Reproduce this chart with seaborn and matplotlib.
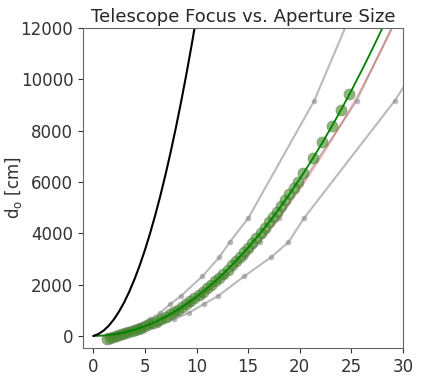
import numpy as np
import pandas as pd
import matplotlib
matplotlib.use("Agg")
import matplotlib.pyplot as plt
import seaborn as sns

# black curve (theory)
black_x = [0, 0.5, 1, 1.5, 2, 2.5, 3, 3.5, 4, 4.5, 5, 5.5, 6, 6.5, 7, 7.5, 8, 8.5, 9, 9.5, 10]
black_y = [0, 76, 210, 401, 650, 956, 1320, 1741, 2220, 2756, 3350, 4001, 4710, 5476,
           6300, 7181, 8120, 9116, 10170, 11281, 12450]

# measured d_o levels for the gray error lines
gray_y = [40, 120, 250, 420, 650, 910, 1240, 1560, 2320, 3065, 3650, 4585, 9166, 14000]
gray_upper_x = [1.36, 2.35, 3.4, 4.4, 5.5, 6.5, 7.45, 8.5, 10.55, 12.2, 13.2, 15.0, 21.4, 26.5]
gray_inner_x = [1.68, 2.91, 4.2, 5.45, 6.78, 8.02, 9.36, 10.5, 12.8, 14.7, 16.1, 18.0, 25.5, 31.3]
gray_lower_x = [1.95, 3.4, 4.85, 6.3, 7.8, 9.3, 10.7, 12.1, 14.6, 17.2, 18.9, 20.4, 29.2, 37.0]

# green measurements
green_x = [1.3, 1.6, 1.9, 2.2, 2.5, 2.8, 3.1, 3.4, 3.7, 4.0, 4.3, 4.6, 5.0, 5.4, 5.8, 6.2,
           6.6, 7.0, 7.4, 7.8, 8.2, 8.6, 9.0, 9.4, 9.8, 10.2, 10.6, 11.0, 11.4, 11.8, 12.2,
           12.6, 13.0, 13.4, 13.8, 14.2, 14.6, 15.0, 15.4, 15.8, 16.2, 16.6, 17.0, 17.4,
           17.8, 18.2, 18.6, 19.0, 19.4, 19.8, 20.35, 21.3, 22.2, 23.1, 24.0, 24.8]
green_y = [-110, -80, -50, -20, 20, 60, 100, 150, 195, 240, 283, 324, 383, 446, 515, 588,
           666, 750, 838, 931, 1029, 1132, 1239, 1352, 1469, 1592, 1719, 1851, 1988, 2130,
           2277, 2429, 2586, 2747, 2914, 3085, 3261, 3443, 3629, 3820, 4015, 4216, 4422,
           4632, 4848, 5068, 5293, 5523, 5758, 5998, 6336, 6941, 7540, 8164, 8813, 9410]

# fit lines
fit_x = list(range(0, 31))
fit_green_y = [0, 15, 61, 138, 245, 383, 551, 750, 979, 1239, 1530, 1851, 2203, 2586, 2999,
               3443, 3917, 4422, 4957, 5523, 6120, 6747, 7405, 8094, 8813, 9563, 10343,
               11154, 11995, 12867, 13770]
fit_red_y = [0, 14, 57, 129, 229, 358, 515, 701, 915, 1158, 1430, 1730, 2059, 2417, 2803,
             3218, 3661, 4133, 4633, 5162, 5720, 6306, 6921, 7565, 8237, 8938, 9667, 10425,
             11211, 12026, 12870]


def main():
    sns.set_style("ticks")
    plt.rcParams['font.family'] = ['DejaVu Sans']

    fig = plt.figure(figsize=(4.27, 3.8), dpi=100)
    ax = fig.add_axes([83 / 427, 1 - 348 / 380, 320 / 427, 320 / 380])

    for gx in [gray_upper_x, gray_inner_x, gray_lower_x]:
        sns.lineplot(x=gx, y=gray_y, ax=ax, color='0.55', alpha=0.6, lw=1.5,
                     marker='o', markersize=4, markeredgewidth=0,
                     sort=False, estimator=None)

    sns.lineplot(x=fit_x, y=fit_red_y, ax=ax, color='red', alpha=0.25, lw=1.2,
                 sort=False, estimator=None)

    sns.lineplot(x=green_x, y=green_y, ax=ax, color='#3a8a1a', alpha=0.6, lw=0,
                 marker='o', markersize=8, markeredgecolor='0.45',
                 markeredgewidth=0.5, sort=False, estimator=None)
    sns.lineplot(x=fit_x, y=fit_green_y, ax=ax, color='green', lw=1.3,
                 sort=False, estimator=None)

    sns.lineplot(x=black_x, y=black_y, ax=ax, color='black', lw=1.5,
                 sort=False, estimator=None)

    ax.set_xlim(-1, 30)
    ax.set_ylim(-470, 12000)
    ax.set_xticks([0, 5, 10, 15, 20, 25, 30])
    ax.set_yticks([0, 2000, 4000, 6000, 8000, 10000, 12000])
    ax.tick_params(labelsize=12, colors='0.2')
    for s in ax.spines.values():
        s.set_color('0.4')
    ax.set_title("Telescope Focus vs. Aperture Size", fontsize=13, color='0.15', pad=4)
    ax.set_ylabel(r"d$_\mathregular{o}$ [cm]", fontsize=12, color='0.2')
    ax.yaxis.set_label_coords(-0.185, 0.5)
    # the reference crops this label at the bottom edge
    ax.set_xlabel(r"d$_\mathregular{i}$ [cm]", fontsize=12, color='0.2', labelpad=4)

    fig.savefig("out.png", dpi=100)


if __name__ == "__main__":
    main()
